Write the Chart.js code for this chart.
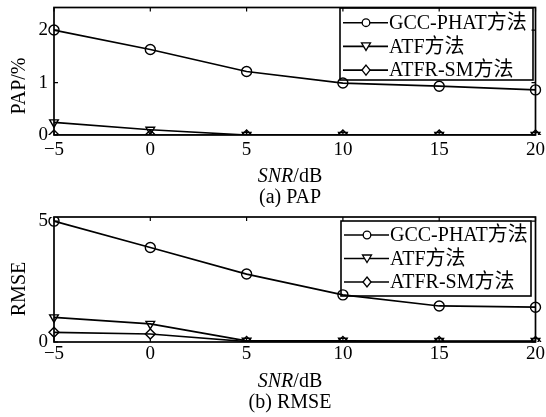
<!DOCTYPE html>
<html>
<head>
<meta charset="utf-8">
<script src="https://cdn.jsdelivr.net/npm/chart.js@4/dist/chart.umd.min.js"></script>
<style>
  body { margin: 0; background: #fff; }
  canvas { display: block; }
</style>
</head>
<body>
<canvas id="pap" width="546" height="207"></canvas>
<canvas id="rmse" width="546" height="210"></canvas>
<script>
// SNR values on the x axis
const snrLabels = ['\u22125', '0', '5', '10', '15', '20'];
const seriesNames = ['GCC-PHAT方法', 'ATF方法', 'ATFR-SM方法'];

// (a) PAP
const papGcc = [2.0, 1.63, 1.21, 0.99, 0.93, 0.86];
const papAtf = [0.24, 0.1, 0.0, 0.0, 0.0, 0.0];
const papAtfr = [0.0, 0.0, 0.0, 0.0, 0.0, 0.0];
const papTicks = [0, 1, 2];

// (b) RMSE
const rmseGcc = [5.0, 3.91, 2.81, 1.95, 1.49, 1.44];
const rmseAtf = [1.02, 0.75, 0.05, 0.05, 0.04, 0.04];
const rmseAtfr = [0.4, 0.33, 0.02, 0.02, 0.02, 0.02];
const rmseTicks = [0, 5];

const serif = '"Liberation Serif", "Times New Roman", "Noto Sans CJK SC", serif';
const markers = ['circle', 'triangle', 'rectRot'];
const rotations = [0, 180, 0];

function makeSets(values) {
  return values.map((v, i) => ({
    label: seriesNames[i],
    data: v,
    borderColor: '#000',
    backgroundColor: 'rgba(0,0,0,0)',
    borderWidth: 1.7,
    pointStyle: markers[i],
    pointRotation: rotations[i],
    pointRadius: 5,
    pointBorderWidth: 1.4,
    pointBorderColor: '#000',
    pointBackgroundColor: 'rgba(0,0,0,0)',
    tension: 0
  })).reverse();
}

function drawMarker(ctx, style, x, y) {
  ctx.beginPath();
  if (style === 'circle') {
    ctx.arc(x, y, 3.8, 0, Math.PI * 2);
  } else if (style === 'triangle') {
    ctx.moveTo(x - 4.5, y - 3.5);
    ctx.lineTo(x + 4.5, y - 3.5);
    ctx.lineTo(x, y + 4);
    ctx.closePath();
  } else {
    ctx.moveTo(x, y - 5);
    ctx.lineTo(x + 4, y);
    ctx.lineTo(x, y + 5);
    ctx.lineTo(x - 4, y);
    ctx.closePath();
  }
  ctx.fillStyle = '#fff';
  ctx.fill();
  ctx.stroke();
}

// legend box under the marks, frame, inward ticks and axis texts on top
const decor = {
  id: 'decor',
  beforeDatasetsDraw(chart, args, o) {
    const ctx = chart.ctx;
    const L = o.legend;
    ctx.save();
    ctx.strokeStyle = '#000';
    ctx.lineWidth = 1.6;
    ctx.fillStyle = '#fff';
    ctx.fillRect(L.x, L.y, L.w, L.h);
    ctx.strokeRect(L.x, L.y, L.w, L.h);
    ctx.textBaseline = 'middle';
    seriesNames.forEach((name, i) => {
      const ry = L.y + L.row0 + i * L.rowGap;
      ctx.lineWidth = 1.6;
      ctx.beginPath();
      ctx.moveTo(L.x + 3, ry); ctx.lineTo(L.x + 48, ry);
      ctx.stroke();
      ctx.lineWidth = 1.3;
      drawMarker(ctx, markers[i], L.x + 26, ry);
      ctx.fillStyle = '#000';
      ctx.textAlign = 'left';
      ctx.font = '20px ' + serif;
      ctx.fillText(name, L.x + 49, ry + 1);
    });
    ctx.restore();
  },
  afterDatasetsDraw(chart, args, o) {
    const ctx = chart.ctx;
    const a = chart.chartArea;
    const xs = chart.scales.x, ys = chart.scales.y;
    ctx.save();
    ctx.strokeStyle = '#000';
    ctx.lineWidth = 1.7;
    ctx.strokeRect(a.left, a.top, a.right - a.left, a.bottom - a.top);
    ctx.lineWidth = 1.2;
    xs.ticks.forEach((t, i) => {
      const px = xs.getPixelForTick(i);
      ctx.beginPath();
      ctx.moveTo(px, a.bottom); ctx.lineTo(px, a.bottom - 4);
      ctx.moveTo(px, a.top); ctx.lineTo(px, a.top + 4);
      ctx.stroke();
    });
    ys.ticks.forEach(t => {
      const py = ys.getPixelForValue(t.value);
      ctx.beginPath();
      ctx.moveTo(a.left, py); ctx.lineTo(a.left + 4, py);
      ctx.moveTo(a.right, py); ctx.lineTo(a.right - 4, py);
      ctx.stroke();
    });

    // x title: italic SNR + /dB, caption below
    ctx.fillStyle = '#000';
    ctx.textBaseline = 'middle';
    ctx.textAlign = 'left';
    const cx = 290;
    ctx.font = 'italic 20px ' + serif;
    const w1 = ctx.measureText('SNR').width;
    ctx.font = '20px ' + serif;
    const w2 = ctx.measureText('/dB').width;
    const sx = cx - (w1 + w2) / 2;
    ctx.font = 'italic 20px ' + serif;
    ctx.fillText('SNR', sx, o.titleY);
    ctx.font = '20px ' + serif;
    ctx.fillText('/dB', sx + w1, o.titleY);
    ctx.textAlign = 'center';
    ctx.fillText(o.caption, cx, o.captionY);

    // y title
    ctx.translate(20, o.yTitleY);
    ctx.rotate(-Math.PI / 2);
    ctx.fillText(o.yTitle, 0, 0);
    ctx.restore();
  }
};

function makeChart(id, values, yMax, yTicks, xHeight, top, xPad, deco) {
  return new Chart(document.getElementById(id), {
    type: 'line',
    data: { labels: snrLabels, datasets: makeSets(values) },
    options: {
      responsive: false,
      animation: false,
      layout: { padding: { left: 0, right: 10.5, top: top, bottom: 0 } },
      plugins: { legend: { display: false }, tooltip: { enabled: false }, decor: deco },
      scales: {
        x: {
          type: 'category',
          offset: false,
          grid: { display: false, drawTicks: false },
          border: { display: false },
          ticks: { color: '#000', padding: xPad, maxRotation: 0, autoSkip: false, font: { family: serif, size: 19 } },
          afterFit: s => { s.height = xHeight; s.paddingLeft = 0; s.paddingRight = 0; }
        },
        y: {
          min: 0,
          max: yMax,
          grid: { display: false, drawTicks: false },
          border: { display: false },
          ticks: { color: '#000', padding: 6, font: { family: serif, size: 19 } },
          afterBuildTicks: s => { s.ticks = yTicks.map(v => ({ value: v })); },
          afterFit: s => { s.width = 54; s.paddingTop = 0; s.paddingBottom = 0; }
        }
      }
    },
    plugins: [decor]
  });
}

makeChart('pap', [papGcc, papAtf, papAtfr], 2.43, papTicks, 72, 7.5, 4, {
  titleY: 177, caption: '(a) PAP', captionY: 198, yTitle: 'PAP/%', yTitleY: 86,
  legend: { x: 340, y: 8, w: 193, h: 72, row0: 14.7, rowGap: 23.7 }
});
makeChart('rmse', [rmseGcc, rmseAtf, rmseAtfr], 5.17, rmseTicks, 75, 10, 1, {
  titleY: 175, caption: '(b) RMSE', captionY: 196, yTitle: 'RMSE', yTitleY: 82,
  legend: { x: 341, y: 14, w: 190, h: 75, row0: 14, rowGap: 23.5 }
});
</script>
</body>
</html>
